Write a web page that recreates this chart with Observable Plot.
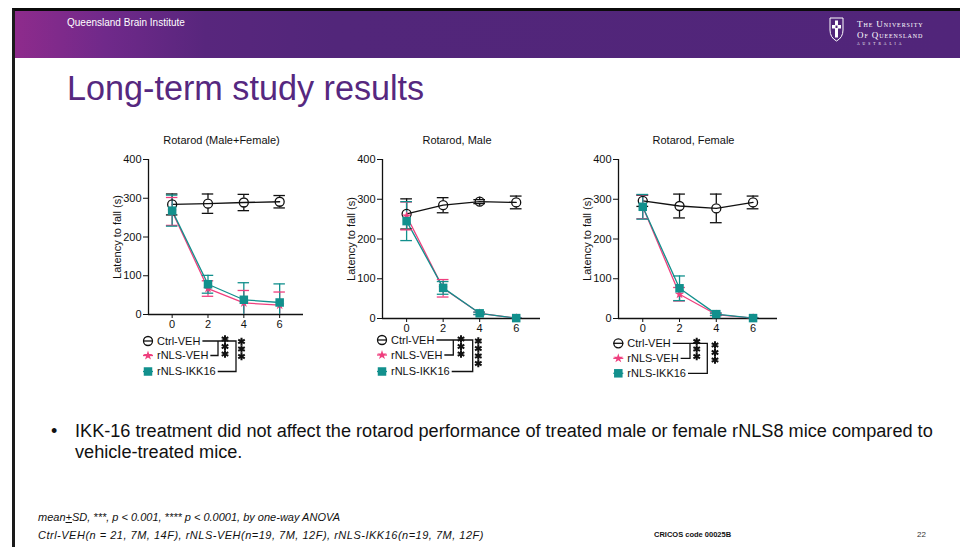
<!DOCTYPE html>
<html>
<head>
<meta charset="utf-8">
<script src="https://cdn.jsdelivr.net/npm/d3@7"></script>
<script src="https://cdn.jsdelivr.net/npm/@observablehq/plot@0.6"></script>
<style>
  html, body { margin: 0; padding: 0; background: #fff; }
  body { width: 960px; height: 547px; position: relative; overflow: hidden;
         font-family: "Liberation Sans", Arial, sans-serif; color: #111; }
  .abs { position: absolute; }
  #frame { left: 12px; top: 8px; width: 960px; height: 560px;
           border-top: 3px solid #0b0b0b; border-left: 3px solid #1a1a1a; }
  #header { left: 15px; top: 11px; width: 945px; height: 47px;
            background: linear-gradient(to right, #8e2b8c 0px, #70298a 90px, #58267d 190px, #52267a 320px, #51257a 100%); }
  #inst { left: 67px; top: 18px; font-size: 10px; line-height: 10px; color: #fff; }
  #logo { left: 826px; top: 14px; }
  #title { left: 67px; top: 71px; font-size: 34.2px; line-height: 34px; color: #56287f; }
  .ptitle { font-size: 11px; line-height: 11px; color: #111; transform: translateX(-50%); white-space: nowrap; }
  #bullet { left: 51px; top: 421px; font-size: 18px; line-height: 21px; }
  #body { left: 75px; top: 421px; font-size: 18.15px; line-height: 21px; white-space: nowrap; }
  #foot { left: 38px; top: 508px; font-size: 11px; line-height: 18px; font-style: italic; white-space: nowrap; }
  #foot .l2 { letter-spacing: 0.5px; }
  #cricos { left: 654px; top: 531px; font-size: 7.5px; line-height: 8px; font-weight: bold; }
  #page { left: 917px; top: 531px; font-size: 8px; line-height: 8px; color: #333; }
  svg.panel { position: absolute; }
  #legends { position: absolute; left: 0; top: 0; }
</style>
</head>
<body>
<div class="abs" id="frame"></div>
<div class="abs" id="header"></div>
<div class="abs" id="inst">Queensland Brain Institute</div>
<svg class="abs" id="logo" width="120" height="36" viewBox="0 0 120 36">
  <path d="M4 4 H17 V16 Q17 23.5 10.5 27 Q4 23.5 4 16 Z" fill="none" stroke="#fff" stroke-width="1"/>
  <rect x="9" y="6.5" width="3" height="17" fill="#fff"/>
  <rect x="6" y="11" width="9" height="3.5" fill="#fff"/>
  <rect x="9.5" y="11.5" width="2" height="2.5" fill="#52267a"/>
  <text x="31" y="13" fill="#fff" font-family="Liberation Serif, DejaVu Serif, serif" font-size="9" style="font-variant: small-caps; letter-spacing: 0.9px">The University</text>
  <text x="31" y="23.5" fill="#fff" font-family="Liberation Serif, DejaVu Serif, serif" font-size="9" style="font-variant: small-caps; letter-spacing: 0.9px">Of Queensland</text>
  <text x="31" y="30.8" fill="#fff" font-family="Liberation Serif, DejaVu Serif, serif" font-size="3.6" style="letter-spacing: 3px">AUSTRALIA</text>
</svg>
<div class="abs" id="title">Long-term study results</div>
<div class="abs" id="bullet">•</div>
<div class="abs" id="body">IKK-16 treatment did not affect the rotarod performance of treated male or female rNLS8 mice compared to<br>vehicle-treated mice.</div>
<div class="abs" id="foot">mean<u>+</u>SD, ***, p &lt; 0.001, **** p &lt; 0.0001, by one-way ANOVA<br><span class="l2">Ctrl-VEH(n = 21, 7M, 14F), rNLS-VEH(n=19, 7M, 12F), rNLS-IKK16(n=19, 7M, 12F)</span></div>
<div class="abs" id="cricos">CRICOS code 00025B</div>
<div class="abs" id="page">22</div>

<script>
// Rotarod latency to fall (s), mean and SD at weeks 0, 2, 4, 6
const weeks = [0, 2, 4, 6];
const groups = ["Ctrl-VEH", "rNLS-VEH", "rNLS-IKK16"];
const panels = ["Rotarod (Male+Female)", "Rotarod, Male", "Rotarod, Female"];
const yTicks = [0, 100, 200, 300, 400];

// Male + Female
const allCtrlMean = [284, 286, 289, 291];
const allCtrlSD   = [27, 25, 21, 16];
const allVehMean  = [266, 67, 30, 24];
const allVehSD    = [36, 20, 32, 34];
const allIkkMean  = [268, 78, 38, 31];
const allIkkSD    = [40, 23, 44, 48];

// Male
const maleCtrlMean = [263, 285, 294, 292];
const maleCtrlSD   = [38, 19, 5, 16];
const maleVehMean  = [258, 76, 13, 1];
const maleVehSD    = [35, 22, 3, 1];
const maleIkkMean  = [245, 77, 13, 1];
const maleIkkSD    = [49, 16, 3, 1];

// Female
const femCtrlMean = [296, 283, 277, 292];
const femCtrlSD   = [14, 30, 36, 16];
const femVehMean  = [281, 61, 10, 1];
const femVehSD    = [30, 17, 3, 1];
const femIkkMean  = [281, 76, 11, 1];
const femIkkSD    = [31, 31, 3, 1];

// ANOVA stars for each rNLS group against Ctrl-VEH, per panel
const sigVeh = ["***", "***", "***"];
const sigIkk = ["***", "****", "***"];

const series = [
  [panels[0], groups[0], allCtrlMean, allCtrlSD],
  [panels[0], groups[1], allVehMean, allVehSD],
  [panels[0], groups[2], allIkkMean, allIkkSD],
  [panels[1], groups[0], maleCtrlMean, maleCtrlSD],
  [panels[1], groups[1], maleVehMean, maleVehSD],
  [panels[1], groups[2], maleIkkMean, maleIkkSD],
  [panels[2], groups[0], femCtrlMean, femCtrlSD],
  [panels[2], groups[1], femVehMean, femVehSD],
  [panels[2], groups[2], femIkkMean, femIkkSD]
];
const table = [];
for (const [panel, group, means, sds] of series) {
  weeks.forEach((week, i) => table.push({panel, group, week, mean: means[i], sd: sds[i]}));
}

// Styling
const colors = ["#111111", "#ef3f7e", "#12908d"];
const symbols = ["circle", "star", "square"];
const xDomain = [-1.32, 7.33];
const capHalf = 0.32;          // half width of error-bar caps, in weeks
const rCircle = 4.5, rStar = 3.0, rSquare = 4.8;
const lw = 1.3;
const font = "'Liberation Sans', Arial, sans-serif";

// Frame boxes of the three panels on the page (left, top, width, height)
const boxes = [
  {left: 148, top: 159, w: 155, h: 155},
  {left: 382, top: 159, w: 158, h: 159},
  {left: 618, top: 159, w: 159, h: 159}
];
const M = {left: 50, right: 10, top: 10, bottom: 24};

function drawPanel(panel, box) {
  const rows = table.filter(d => d.panel === panel);
  const ctrl = rows.filter(d => d.group === groups[0]);
  const rnls = rows.filter(d => d.group !== groups[0]);
  const veh = rows.filter(d => d.group === groups[1]);
  const ikk = rows.filter(d => d.group === groups[2]);
  const err = {stroke: "group", strokeWidth: lw};
  const caps = (data, clip) => [
    Plot.ruleY(data, {y: d => d.mean + d.sd, x1: d => d.week - capHalf, x2: d => d.week + capHalf, ...err, clip}),
    Plot.ruleY(data, {y: d => d.mean - d.sd, x1: d => d.week - capHalf, x2: d => d.week + capHalf, ...err, clip})
  ];
  const svg = Plot.plot({
    width: box.w + M.left + M.right,
    height: box.h + M.top + M.bottom,
    marginLeft: M.left, marginRight: M.right, marginTop: M.top, marginBottom: M.bottom,
    style: {fontFamily: font, fontSize: "11px", color: "#111", background: "transparent", overflow: "visible"},
    x: {domain: xDomain, ticks: weeks, tickSize: 4, tickPadding: 2, label: null},
    y: {domain: [0, 400], ticks: yTicks, tickSize: 5, tickPadding: 2, label: null},
    color: {domain: groups, range: colors},
    symbol: {domain: groups, range: symbols},
    marks: [
      Plot.ruleX([xDomain[0]], {y1: 0, y2: 400, strokeWidth: lw}),
      Plot.ruleY([0], {strokeWidth: lw}),
      Plot.text(["Latency to fall (s)"], {frameAnchor: "left", textAnchor: "middle", rotate: -90, dx: -31, fontSize: 11}),
      Plot.line(rows, {x: "week", y: "mean", z: "group", stroke: "group", strokeWidth: lw}),
      // Ctrl error bars stop at the open circle
      Plot.ruleX(ctrl, {x: "week", y1: d => d.mean + d.sd, y2: "mean", insetBottom: rCircle, ...err}),
      Plot.ruleX(ctrl, {x: "week", y1: "mean", y2: d => d.mean - d.sd, insetTop: rCircle, ...err}),
      ...caps(ctrl, false),
      Plot.ruleX(rnls, {x: "week", y1: d => d.mean - d.sd, y2: d => d.mean + d.sd, ...err, clip: true}),
      ...caps(rnls, true),
      Plot.dot(ctrl, {x: "week", y: "mean", symbol: "group", r: rCircle, stroke: "group", fill: "none", strokeWidth: lw}),
      Plot.dot(veh, {x: "week", y: "mean", symbol: "group", r: rStar, fill: "group", stroke: "none"}),
      Plot.dot(ikk, {x: "week", y: "mean", symbol: "group", r: rSquare, fill: "group", stroke: "none"})
    ]
  });
  svg.classList.add("panel");
  svg.style.left = (box.left - M.left) + "px";
  svg.style.top = (box.top - M.top) + "px";
  document.body.appendChild(svg);

  const t = document.createElement("div");
  t.className = "abs ptitle";
  t.textContent = panel;
  t.style.left = (box.left + box.w / 2 - 4) + "px";
  t.style.top = "135px";
  document.body.appendChild(t);
}

panels.forEach((p, k) => drawPanel(p, boxes[k]));

// Legends with significance brackets under each panel
const legendLayout = [
  {sx: 148, tx: 157, rows: [341, 355.5, 371.5], b1: 218, b2: 236, stars: [[225, 339], [241.5, 341.5]]},
  {sx: 382, tx: 391, rows: [340, 355, 371.5], b1: 453.3, b2: 472.7, stars: [[461, 339], [478.3, 341]]},
  {sx: 618.3, tx: 627.3, rows: [343.3, 358.3, 373.3], b1: 690, b2: 707.3, stars: [[696.7, 341.5], [715, 345]]}
];
const symbolFns = [d3.symbolCircle, d3.symbolStar, d3.symbolSquare];
const symbolR = [rCircle, rStar, rSquare];
const asterisk = d3.symbolAsterisk || d3.symbolCross;

const lg = d3.select("body").append("svg").attr("id", "legends")
  .attr("width", 960).attr("height", 547)
  .style("font-family", font).style("font-size", "11px");

legendLayout.forEach((L, k) => {
  const g = lg.append("g");
  const ends = groups.map((name, i) => {
    const y = L.rows[i];
    g.append("line").attr("x1", L.sx - 5).attr("x2", L.sx + 5).attr("y1", y).attr("y2", y)
      .attr("stroke", colors[i]).attr("stroke-width", lw);
    const size = Math.PI * symbolR[i] * symbolR[i];
    g.append("path").attr("transform", `translate(${L.sx},${y})`)
      .attr("d", d3.symbol(symbolFns[i], size)())
      .attr("fill", i === 0 ? "none" : colors[i])
      .attr("stroke", i === 0 ? colors[0] : "none").attr("stroke-width", lw);
    const txt = g.append("text").attr("x", L.tx).attr("y", y).attr("dy", "0.35em")
      .attr("fill", "#111").text(name);
    return L.tx + txt.node().getComputedTextLength() + 2;
  });
  const path = [
    `M${ends[0]},${L.rows[0]}H${L.b2}V${L.rows[2]}H${ends[2]}`,
    `M${L.b1},${L.rows[0]}V${L.rows[1]}H${ends[1]}`
  ];
  path.forEach(d => g.append("path").attr("d", d).attr("fill", "none")
    .attr("stroke", "#111").attr("stroke-width", lw));
  [sigVeh[k], sigIkk[k]].forEach((sig, j) => {
    const [x, y0] = L.stars[j];
    for (let s = 0; s < sig.length; s++) {
      g.append("path").attr("transform", `translate(${x},${y0 + s * 7.5})`)
        .attr("d", d3.symbol(asterisk, 40)())
        .attr("fill", "none").attr("stroke", "#111").attr("stroke-width", 2);
    }
  });
});
</script>
</body>
</html>
